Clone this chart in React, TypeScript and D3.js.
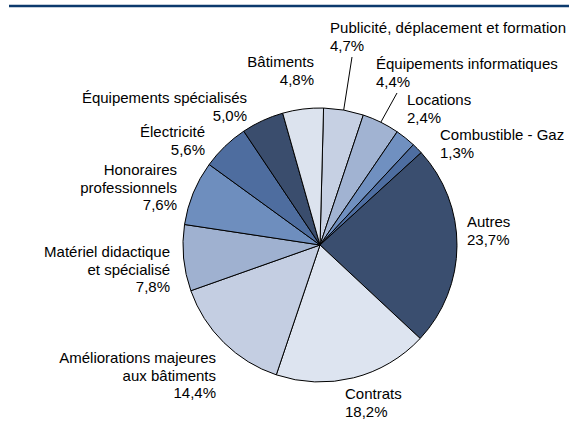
import React from "react";
import * as d3 from "d3";

const categories = [
  "Publicité, déplacement et formation",
  "Équipements informatiques",
  "Locations",
  "Combustible - Gaz",
  "Autres",
  "Contrats",
  "Améliorations majeures\naux bâtiments",
  "Matériel didactique\net spécialisé",
  "Honoraires\nprofessionnels",
  "Électricité",
  "Équipements spécialisés",
  "Bâtiments",
];
const values = [4.7, 4.4, 2.4, 1.3, 23.7, 18.2, 14.4, 7.8, 7.6, 5.6, 5.0, 4.8];
const valueLabels = ["4,7%", "4,4%", "2,4%", "1,3%", "23,7%", "18,2%", "14,4%", "7,8%", "7,6%", "5,6%", "5,0%", "4,8%"];

// styling
const colors = [
  "#c6d0e3", "#a1b3d2", "#7090c0", "#4e6ea1", "#3a4e6f", "#dde4f0",
  "#c4cee2", "#9fb1d0", "#6e8ebe", "#4e6d9f", "#3a4d6d", "#dce3ee",
];
// label layout: [x, firstBaseline, anchor, fitted width of first line (0 = natural)]
const labelLayout: [number, number, string, number][] = [
  [330, 33, "start", 236],
  [376, 69, "start", 0],
  [407, 105, "start", 0],
  [440, 140, "start", 0],
  [467, 227, "start", 0],
  [345, 399, "start", 0],
  [216, 363, "end", 0],
  [170, 257, "end", 0],
  [177, 175, "end", 0],
  [205, 137, "end", 0],
  [247, 103, "end", 0],
  [314, 67, "end", 0],
];
// leader lines start points (near label)
const leaders: Record<number, [number, number]> = { 0: [352, 57], 1: [397, 93] };

const W = 569, H = 421;
const cx = 320, cy = 245, R = 137;
const LH = 17.5;
const rot = 0.026;

export default function App() {
  const pie = d3.pie<number>().sort(null).value((d) => d)
    .startAngle(rot).endAngle(2 * Math.PI + rot)(values);
  const arc = d3.arc<d3.PieArcDatum<number>>().innerRadius(0).outerRadius(R);
  return (
    <svg width={W} height={H} style={{ position: "absolute", left: 0, top: 0, background: "#fff" }}
      fontFamily="'Liberation Sans', Arial, sans-serif" fontSize={15}>
      <rect width={W} height={H} fill="#fff" />
      <line x1={9} x2={W} y1={6} y2={6} stroke="#0c3a6d" strokeWidth={2.5} />
      <g transform={`translate(${cx},${cy})`}>
        {pie.map((p, i) => (
          <path key={i} d={arc(p) || ""} fill={colors[i]} stroke="#000" strokeWidth={1} strokeLinejoin="round" />
        ))}
      </g>
      {Object.entries(leaders).map(([k, pt]) => {
        const p = pie[+k];
        const a = (p.startAngle + p.endAngle) / 2;
        const ex = cx + R * Math.sin(a), ey = cy - R * Math.cos(a);
        return <line key={k} x1={pt[0]} y1={pt[1]} x2={ex} y2={ey} stroke="#000" strokeWidth={1} />;
      })}
      {categories.map((c, i) => {
        const [x, y, anchor, tl] = labelLayout[i];
        const lines = [...c.split("\n"), valueLabels[i]];
        return (
          <g key={i}>
            {lines.map((l, j) =>
              j === 0 && tl > 0 ? (
                <text key={j} x={x} y={y} textAnchor={anchor} fill="#000" textLength={tl} lengthAdjust="spacing">{l}</text>
              ) : (
                <text key={j} x={x} y={y + j * LH} textAnchor={anchor} fill="#000">{l}</text>
              )
            )}
          </g>
        );
      })}
    </svg>
  );
}
